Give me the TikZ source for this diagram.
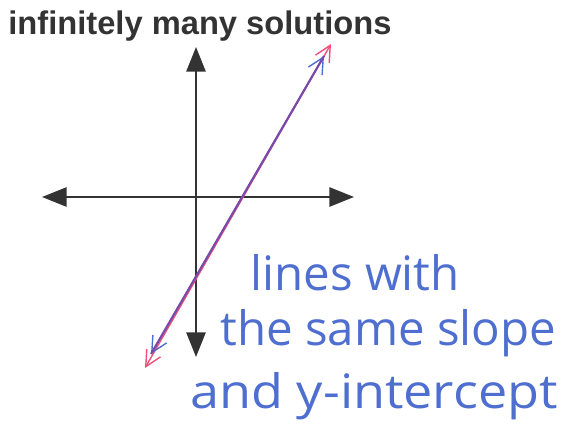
\documentclass[tikz,border=0pt]{standalone}
\usepackage{fontspec}
\setmainfont{Liberation Sans}
\newfontfamily\handfont{Open Sans}
\usepackage{xcolor}
\usetikzlibrary{arrows.meta}
\definecolor{axisgray}{HTML}{333333}
\definecolor{inkpink}{HTML}{F0507A}
\definecolor{inkblue}{HTML}{4F6FD0}
\definecolor{inkpurple}{HTML}{7A4AA8}
\tikzset{
  axis/.style={thick,axisgray,{Triangle[length=14pt,width=11pt]}-{Triangle[length=14pt,width=11pt]}},
  sameline/.style={thick,line cap=round,{Straight Barb[length=9pt,width=9pt]}-{Straight Barb[length=9pt,width=9pt]}},
  note/.style={inkblue,font=\handfont\fontsize{27}{30}\selectfont,anchor=base west,inner sep=0pt}
}
\begin{document}
\begin{tikzpicture}[x=0.02cm,y=-0.02cm]
\useasboundingbox (0,0) rectangle (567,435);
\node[anchor=base west,inner sep=0pt,font=\bfseries\fontsize{18.6}{20}\selectfont,axisgray] (title) at (8,35) {infinitely many solutions};
% axes
\coordinate (xl) at (42,197);
\coordinate (xr) at (354,197);
\coordinate (yt) at (196,47);
\coordinate (yb) at (196,357);
\draw[axis] (xl) -- (xr);
\draw[axis] (yt) -- (yb);
% the two lines, one on top of the other
\coordinate (pinklo) at (145,368);
\coordinate (pinkhi) at (331,44);
\coordinate (bluelo) at (151,354);
\coordinate (bluehi) at (324,56);
\begin{scope}[line width=1.2pt]
  \draw[sameline,inkpink] (pinklo) -- (pinkhi);
  \draw[sameline,inkblue] (bluelo) -- (bluehi);
  \draw[inkpurple] (bluelo) -- (bluehi);
\end{scope}
% handwritten note
\node[note] (line1) at (250,290) {lines with};
\node[note] (line2) at (220,345) {the same slope};
\node[note,xscale=1.1] (line3) at (190,408) {and y-intercept};
\end{tikzpicture}
\end{document}
